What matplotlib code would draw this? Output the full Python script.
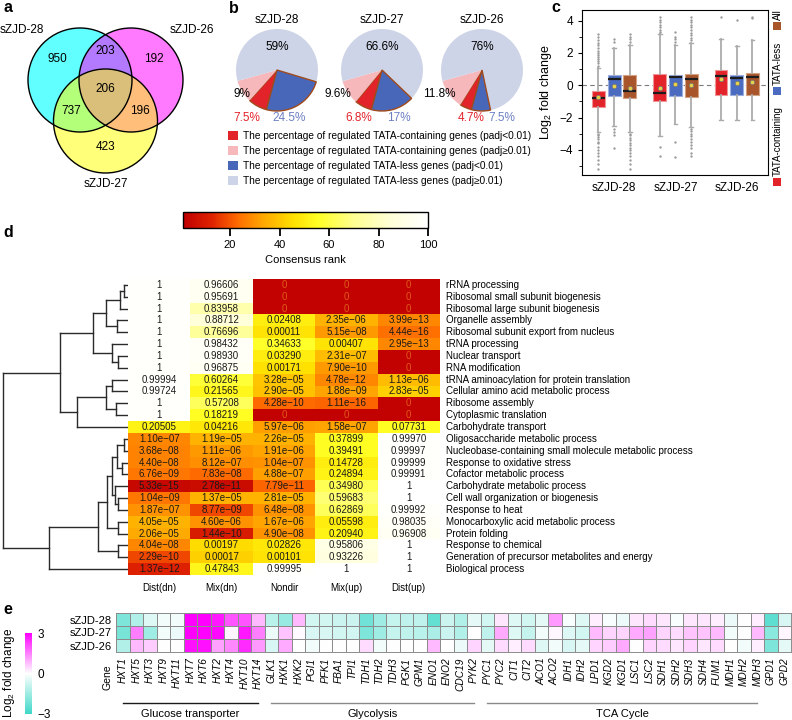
import numpy as np
import matplotlib.pyplot as plt
from matplotlib.colors import LinearSegmentedColormap
from matplotlib.patches import Circle, Rectangle, Patch
from matplotlib.transforms import blended_transform_factory

plt.rcParams['font.family'] = ['Liberation Sans', 'DejaVu Sans']
plt.rcParams['mathtext.fontset'] = 'custom'
plt.rcParams['mathtext.rm'] = 'Liberation Sans'

# ---------------- data ----------------
# a: Venn
venn_names = ['sZJD-28', 'sZJD-26', 'sZJD-27']
venn_counts = {'100': 950, '010': 192, '001': 423,
               '110': 203, '101': 737, '011': 196, '111': 206}

# b: pies (percent)
pie_names = ['sZJD-28', 'sZJD-27', 'sZJD-26']
tata_sig = [7.5, 6.8, 4.7]
tata_ns = [9, 9.6, 11.8]
less_sig = [24.5, 17, 7.5]
less_ns = [59, 66.6, 76]
pie_legend = ['The percentage of regulated TATA-containing genes (padj<0.01)',
              'The percentage of regulated TATA-containing genes (padj\u22650.01)',
              'The percentage of regulated TATA-less genes (padj<0.01)',
              'The percentage of regulated TATA-less genes (padj\u22650.01)']

# c: box plots, (whislo, q1, med, q3, whishi, mean) per sample
box_groups = ['sZJD-28', 'sZJD-27', 'sZJD-26']
box_kinds = ['TATA-containing', 'TATA-less', 'All']
tata_box = [(-2.87, -1.36, -0.76, -0.33, 1.05, -0.70),
            (-3.13, -0.97, -0.50, 0.70, 3.20, -0.18),
            (-2.14, -0.60, 0.58, 0.95, 2.85, 0.39)]
less_box = [(-2.50, -0.66, 0.41, 0.64, 2.30, -0.04),
            (-2.40, -0.66, 0.50, 0.66, 2.50, 0.08),
            (-2.14, -0.60, 0.47, 0.66, 2.45, 0.12)]
all_box = [(-2.87, -0.80, -0.37, 0.64, 2.50, -0.18),
           (-2.56, -0.70, 0.41, 0.70, 2.64, 0.00),
           (-2.14, -0.60, 0.54, 0.78, 2.80, 0.20)]
tata_out = [[1.2, 1.35, 1.5, 1.6, 1.75, 1.9, 2.0, 2.1, 2.3, 2.5, 2.6, 2.8, 3.0, 3.15,
             -3.0, -3.1, -3.2, -3.35, -3.5, -3.6, -3.8, -4.0, -4.2, -4.4, -4.6, -4.9, -5.2],
            [3.3, 3.45, 3.6, 3.75, 3.9, 4.05, 4.25, -3.8, -4.35],
            [4.25]]
less_out = [[2.7, 2.85, -2.7, -2.9, -3.1, -3.9],
            [2.7, 2.85, 3.0, 3.3, -3.5, -4.45],
            [4.05]]
all_out = [[2.7, 2.85, 3.0, 3.15, -3.0, -3.1, -3.25, -3.4, -3.55, -3.7, -3.85,
            -4.0, -4.2, -4.4, -4.6, -4.9, -5.2],
           [2.8, 2.95, 3.1, 3.25, 3.4, 3.6, 3.75, 3.9, 4.05, 4.25,
            -2.7, -2.85, -3.0, -3.15, -3.3, -3.5, -3.7, -3.9, -4.2, -4.4],
           [4.15, 4.25]]

# d: GO terms, adjusted p values and consensus rank
go_terms = ['rRNA processing', 'Ribosomal small subunit biogenesis',
            'Ribosomal large subunit biogenesis', 'Organelle assembly',
            'Ribosomal subunit export from nucleus', 'tRNA processing',
            'Nuclear transport', 'RNA modification',
            'tRNA aminoacylation for protein translation',
            'Cellular amino acid metabolic process', 'Ribosome assembly',
            'Cytoplasmic translation', 'Carbohydrate transport',
            'Oligosaccharide metabolic process',
            'Nucleobase-containing small molecule metabolic process',
            'Response to oxidative stress', 'Cofactor metabolic process',
            'Carbohydrate metabolic process', 'Cell wall organization or biogenesis',
            'Response to heat', 'Monocarboxylic acid metabolic process',
            'Protein folding', 'Response to chemical',
            'Generation of precursor metabolites and energy', 'Biological process']
go_cols = ['Dist(dn)', 'Mix(dn)', 'Nondir', 'Mix(up)', 'Dist(up)']
go_padj = [
    ['1', '0.96606', '0', '0', '0'],
    ['1', '0.95691', '0', '0', '0'],
    ['1', '0.83958', '0', '0', '0'],
    ['1', '0.88712', '0.02408', '2.35e-06', '3.99e-13'],
    ['1', '0.76696', '0.00011', '5.15e-08', '4.44e-16'],
    ['1', '0.98432', '0.34633', '0.00407', '2.95e-13'],
    ['1', '0.98930', '0.03290', '2.31e-07', '0'],
    ['1', '0.96875', '0.00171', '7.90e-10', '0'],
    ['0.99994', '0.60264', '3.28e-05', '4.78e-12', '1.13e-06'],
    ['0.99724', '0.21565', '2.90e-05', '1.88e-09', '2.83e-05'],
    ['1', '0.57208', '4.28e-10', '1.11e-16', '0'],
    ['1', '0.18219', '0', '0', '0'],
    ['0.20505', '0.04216', '5.97e-06', '1.58e-07', '0.07731'],
    ['1.10e-07', '1.19e-05', '2.26e-05', '0.37899', '0.99970'],
    ['3.68e-08', '1.11e-06', '1.91e-06', '0.39491', '0.99997'],
    ['4.40e-08', '8.12e-07', '1.04e-07', '0.14728', '0.99999'],
    ['6.76e-09', '7.83e-08', '4.88e-07', '0.24894', '0.99991'],
    ['5.33e-15', '2.78e-11', '7.79e-11', '0.34980', '1'],
    ['1.04e-09', '1.37e-05', '2.81e-05', '0.59683', '1'],
    ['1.87e-07', '8.77e-09', '6.48e-08', '0.62869', '0.99992'],
    ['4.05e-05', '4.60e-06', '1.67e-06', '0.05598', '0.98035'],
    ['2.06e-05', '1.44e-10', '4.90e-08', '0.20940', '0.96908'],
    ['4.04e-08', '0.00197', '0.02826', '0.95806', '1'],
    ['2.29e-10', '0.00017', '0.00101', '0.93226', '1'],
    ['1.37e-12', '0.47843', '0.99995', '1', '1'],
]
go_rank = [
    [99, 95, 2, 2, 2], [99, 95, 2, 2, 2], [99, 76, 2, 2, 2],
    [99, 86, 50, 36, 28], [99, 72, 47, 31, 24], [99, 97, 56, 47, 28],
    [99, 97, 50, 38, 2], [99, 96, 46, 31, 2], [99, 58, 40, 28, 38],
    [99, 53, 39, 33, 42], [99, 63, 23, 22, 2], [99, 55, 2, 2, 2],
    [52, 48, 32, 33, 55], [28, 36, 36, 55, 99], [27, 31, 33, 55, 99],
    [27, 29, 30, 50, 99], [25, 23, 32, 52, 99], [4, 5, 22, 62, 100],
    [25, 36, 36, 66, 100], [30, 18, 30, 63, 99], [36, 30, 33, 50, 97],
    [34, 10, 30, 52, 96], [28, 45, 48, 90, 100], [18, 42, 47, 88, 100],
    [12, 53, 99, 100, 100],
]
# clustering of GO terms: (child, child, height); new clusters numbered from 25
go_merges = [(0, 1, 0.03), (25, 2, 0.065), (3, 4, 0.09), (26, 27, 0.175),
             (6, 7, 0.08), (5, 29, 0.125), (28, 30, 0.28), (8, 9, 0.13),
             (10, 11, 0.10), (32, 33, 0.175), (34, 12, 0.405), (31, 35, 0.545),
             (13, 14, 0.035), (15, 16, 0.05), (37, 38, 0.085), (18, 19, 0.077),
             (17, 40, 0.105), (39, 41, 0.13), (20, 21, 0.077), (42, 43, 0.17),
             (22, 23, 0.077), (44, 45, 0.24), (46, 24, 0.63), (36, 47, 1.0)]

# e: log2 fold change of central carbon genes
genes = ['HXT1', 'HXT5', 'HXT3', 'HXT9', 'HXT11', 'HXT7', 'HXT6', 'HXT2', 'HXT4',
         'HXT10', 'HXT14', 'GLK1', 'HXK1', 'HXK2', 'PGI1', 'PFK1', 'FBA1', 'TPI1',
         'TDH1', 'TDH2', 'TDH3', 'PGK1', 'GPM1', 'ENO1', 'ENO2', 'CDC19', 'PYK2',
         'PYC1', 'PYC2', 'CIT1', 'CIT2', 'ACO1', 'ACO2', 'IDH1', 'IDH2', 'LPD1',
         'KGD2', 'KGD1', 'LSC1', 'LSC2', 'SDH1', 'SDH2', 'SDH3', 'SDH4', 'FUM1',
         'MDH1', 'MDH2', 'MDH3', 'GPD1', 'GPD2']
fc_rows = ['sZJD-28', 'sZJD-27', 'sZJD-26']
fc_28 = [-2.0, -1.2, -0.5, -0.2, -0.2, 3.0, 3.0, 2.7, 2.0, 2.0, 0.8,
         -1.1, -1.6, 0.8, -0.7, -0.7, -0.8, -0.8, -2.2, -1.5, -0.9, -1.0, -1.0, -2.4, -0.8, -1.2, -0.4,
         -0.7, 0.3, -0.5, -0.7, -0.4, 1.2, -0.1, -0.5, 0.2, -0.1, -0.3, 0.3, 0.4, 0.3, -0.1,
         0.3, 0.3, 0.2, -0.3, 0.0, 0.2,
         -2.5, -0.6]
fc_27 = [-2.1, 1.5, -1.5, -0.2, -0.3, 3.0, 3.0, 2.9, 0.1, 2.7, 1.5,
         -0.3, 0.7, 0.05, -0.6, -0.6, -0.7, -0.7, -2.0, -1.5, -0.9, -1.0, -1.1, -1.3, -0.8, -1.2, 0.0,
         -1.0, 1.0, -0.5, -0.9, -0.2, 0.1, -0.5, -0.7, 0.8, 0.5, 0.5, 1.0, 1.1, 0.5, 0.4,
         0.7, 0.7, 0.8, -0.2, 0.0, 0.8,
         -1.8, 0.1]
fc_26 = [-1.2, 0.8, 0.6, 0.0, 0.0, 2.8, 2.8, 1.1, 1.4, 2.5, 1.2,
         -0.6, 1.0, 0.0, -0.2, 0.0, 0.0, 0.0, 0.4, -0.2, 0.0, 0.0, 0.0, 0.8, 0.0, -0.3, 0.5,
         -0.4, 0.4, 0.2, 0.4, -0.5, -0.2, -0.6, -0.4, 0.5, 0.6, 1.0, 0.0, 0.5, 0.4, 0.3,
         0.5, 0.3, 0.4, 0.0, -0.2, 0.2,
         -2.0, -0.4]
gene_groups = [('Glucose transporter', 'HXT1', 'HXT14'),
               ('Glycolysis', 'GLK1', 'PYK2'),
               ('TCA Cycle', 'PYC1', 'MDH3')]

# ---------------- layout helpers (pixels) ----------------
W, H = 792, 720
fig = plt.figure(figsize=(W / 100, H / 100), dpi=100)


def pbox(x0, y0, x1, y1):
    return [x0 / W, 1 - y1 / H, (x1 - x0) / W, (y1 - y0) / H]


def fx(x):
    return x / W


def fy(y):
    return 1 - y / H


for lab, (x, y) in zip('abcde', [(3, 0), (229, 1), (551, 0), (3, 225), (3, 602)]):
    fig.text(fx(x), fy(y), lab, fontsize=11.5, fontweight='bold', va='top', ha='left')

# ---------------- a: Venn ----------------
ax = fig.add_axes(pbox(0, 0, 230, 200))
ax.set_xlim(0, 230)
ax.set_ylim(200, 0)
ax.axis('off')
centers = [(80, 80), (131, 80), (105.5, 121)]
rad = 52
for (cx, cy), col, al in zip(centers, ['#00ffff', '#ff00ff', '#ffff00'], [0.62, 0.52, 0.52]):
    ax.add_patch(Circle((cx, cy), rad, facecolor=col, alpha=al, edgecolor='none'))
for cx, cy in centers:
    ax.add_patch(Circle((cx, cy), rad, facecolor='none', edgecolor='black', lw=1))
gx, gy = np.meshgrid(np.arange(0, 230, 0.5), np.arange(0, 200, 0.5))
dists = [np.hypot(gx - cx, gy - cy) for cx, cy in centers]
for code, n in venn_counts.items():
    depth = np.full(gx.shape, np.inf)
    for d, bit in zip(dists, code):
        depth = np.minimum(depth, rad - d if bit == '1' else d - rad)
    k = np.argmax(depth)
    ax.text(gx.flat[k], gy.flat[k] - 3, str(n), ha='center', va='center', fontsize=8.5)
for (cx, cy), name, (dx, dy) in zip(centers, venn_names, [(-58, -50), (61, -50), (0, 63)]):
    ax.text(cx + dx, cy + dy, name, ha='center', va='center', fontsize=8.5)

# ---------------- b: pies ----------------
pie_colors = ['#e3232a', '#f6b8ba', '#cdd4e7', '#4967b8']
pie_cx, pie_cy, pie_r = [277, 382, 482], 70, 41
pink_dx = [-0.85, -1.07, -1.05]
red_dx = [-0.73, -0.56, -0.27]
blue_dx = [0.29, 0.41, 0.49]
for i, name in enumerate(pie_names):
    s = 1.25 * pie_r
    axp = fig.add_axes(pbox(pie_cx[i] - s, pie_cy - s, pie_cx[i] + s, pie_cy + s))
    vals = [tata_sig[i], tata_ns[i], less_ns[i], less_sig[i]]
    wedges, _ = axp.pie(vals, colors=pie_colors, startangle=-105, counterclock=False)
    for w in (wedges[0], wedges[3]):
        w.set_edgecolor('#a04a1c')
        w.set_linewidth(1.0)
    axp.set_xlim(-1.25, 1.25)
    axp.set_ylim(-1.25, 1.25)
    axp.text(0, 1.22, name, ha='center', va='center', fontsize=8.5)
    axp.text(0, 0.56, f'{less_ns[i]:g}%', ha='center', va='center', fontsize=8.5)
    axp.text(pink_dx[i], -0.59, f'{tata_ns[i]:g}%', ha='center', va='center', fontsize=8.5)
    axp.text(red_dx[i], -1.17, f'{tata_sig[i]:g}%', ha='center', va='center',
             fontsize=8.5, color='#e3232a')
    axp.text(blue_dx[i], -1.17, f'{less_sig[i]:g}%', ha='center', va='center',
             fontsize=8.5, color='#6b7fc2')
axl = fig.add_axes(pbox(228, 131, 530, 198))
axl.axis('off')
axl.legend([Patch(facecolor=c, edgecolor='none') for c in pie_colors[:2] + pie_colors[3:] + pie_colors[2:3]],
           pie_legend, loc='upper left', bbox_to_anchor=(0, 1),
           frameon=False, fontsize=7.3, borderpad=0, borderaxespad=0, handlelength=0.95,
           handleheight=0.95, handletextpad=0.5, labelspacing=0.5)

# ---------------- c: box plots ----------------
axc = fig.add_axes(pbox(582, 10, 768, 175))
axc.axhline(0, color='#7a7a7a', ls=(0, (4, 3)), lw=0.8, zorder=0)
kind_colors = ['#e3232a', '#4a6bbf', '#a8552b']
kind_edges = ['#f19497', '#9aaee0', '#d2a283']
offs = [-0.257, 0, 0.257]
for k, (bstats, bouts) in enumerate(zip([tata_box, less_box, all_box], [tata_out, less_out, all_out])):
    stats = [dict(whislo=lo, q1=q1, med=med, q3=q3, whishi=hi, mean=mn, fliers=np.array(o))
             for (lo, q1, med, q3, hi, mn), o in zip(bstats, bouts)]
    axc.bxp(stats, positions=[g + offs[k] for g in (1, 2, 3)], widths=0.21,
            patch_artist=True, showmeans=True, capwidths=0.06, manage_ticks=False,
            boxprops=dict(facecolor=kind_colors[k], edgecolor=kind_edges[k], lw=0.8),
            medianprops=dict(color='#1c1c1c', lw=1.6),
            whiskerprops=dict(color='#ababab', lw=1.3),
            capprops=dict(color='#ababab', lw=1.0),
            flierprops=dict(marker='o', ms=1.7, mfc='#9a9a9a', mec='none'),
            meanprops=dict(marker='o', ms=3.2, mfc='#e8d24a', mec='#777777', mew=0.5))
axc.set_xlim(0.475, 3.51)
axc.set_ylim(-5.55, 4.66)
axc.set_xticks([1, 2, 3], box_groups, fontsize=8.5)
axc.set_yticks([-4, -2, 0, 2, 4])
axc.set_yticks([-5, -3, -1, 1, 3], minor=True)
axc.tick_params(axis='y', labelsize=8.5, length=3)
axc.tick_params(axis='y', which='minor', length=2)
axc.tick_params(axis='x', length=0, pad=5)
axc.set_ylabel('Log$_2$ fold change', fontsize=9, labelpad=4)
for ylab, name, col in zip([182, 91, 26], box_kinds, kind_colors):
    fig.add_artist(Rectangle((fx(773), fy(ylab + 4)), 8 / W, 8 / H, transform=fig.transFigure,
                             facecolor=col, edgecolor='none'))
    fig.text(fx(777.5), fy(ylab - 6), name, rotation=90, ha='center', va='bottom', fontsize=7)

# ---------------- d: GO heatmap with dendrogram ----------------
heat = LinearSegmentedColormap.from_list('heat', [
    (0.0, '#bf0000'), (0.12, '#e02400'), (0.22, '#ff6a00'), (0.32, '#ffa400'),
    (0.45, '#ffe000'), (0.55, '#ffff24'), (0.70, '#ffff92'), (0.85, '#ffffd8'), (1.0, '#ffffff')])
axh = fig.add_axes(pbox(128, 279, 440, 575))
im = axh.imshow(np.array(go_rank), cmap=heat, vmin=1, vmax=100, aspect='auto',
                extent=(0, 5, 25, 0), interpolation='nearest')
axh.axis('off')
for i, term in enumerate(go_terms):
    for j in range(5):
        txt = go_padj[i][j]
        axh.text(j + 0.5, i + 0.5, txt.replace('-', '\u2212'), ha='center', va='center',
                 fontsize=7, color='#e2581a' if txt == '0' else '#1a1a1a')
    axh.text(5.09, i + 0.5, term, ha='left', va='center', fontsize=7)
for j, c in enumerate(go_cols):
    axh.text(j + 0.5, 26.1, c, ha='center', va='center', fontsize=7)

axd = fig.add_axes(pbox(0, 279, 128, 575))
axd.set_xlim(1.025, 0)
axd.set_ylim(25, 0)
axd.axis('off')
n_leaf = len(go_terms)
pos = {i: i + 0.5 for i in range(n_leaf)}
hgt = {i: 0.0 for i in range(n_leaf)}
for k, (a, b, h) in enumerate(go_merges):
    for child in (a, b):
        axd.plot([hgt[child], h], [pos[child], pos[child]], color='#2a2a2a', lw=1)
    axd.plot([h, h], [pos[a], pos[b]], color='#2a2a2a', lw=1)
    pos[n_leaf + k] = (pos[a] + pos[b]) / 2
    hgt[n_leaf + k] = h

cax = fig.add_axes(pbox(183, 212, 428, 228))
cb = fig.colorbar(im, cax=cax, orientation='horizontal', ticks=[20, 40, 60, 80, 100])
cax.tick_params(length=6, width=1.3, labelsize=8, pad=3)
cb.outline.set_linewidth(1.0)
cb.set_label('Consensus rank', fontsize=8, labelpad=3)

# ---------------- e: fold change heatmap ----------------
teal = LinearSegmentedColormap.from_list('tm', ['#3ed8c8', '#ffffff', '#ff00ff'])
axe = fig.add_axes(pbox(116, 613, 791, 652))
me = axe.pcolormesh(np.array([fc_28, fc_27, fc_26]), cmap=teal, vmin=-3, vmax=3,
                    edgecolors='#8c8c8c', linewidth=0.7)
axe.set_xlim(0, len(genes))
axe.set_ylim(3, 0)
axe.set_xticks(np.arange(len(genes)) + 0.5, genes, rotation=90, fontsize=7.3, style='italic')
axe.set_yticks(np.arange(3) + 0.5, fc_rows, fontsize=8)
axe.tick_params(length=0, pad=3)
axe.tick_params(axis='x', pad=4)
for sp in axe.spines.values():
    sp.set_color('#8c8c8c')
    sp.set_linewidth(0.7)
fig.text(fx(107), fy(677), 'Gene', rotation=90, ha='center', va='center', fontsize=7.5)
trans = blended_transform_factory(axe.transData, fig.transFigure)
for (name, g0, g1), lc in zip(gene_groups, ['#1a1a1a', '#8a8a8a', '#8a8a8a']):
    i0, i1 = genes.index(g0) + 0.5, genes.index(g1) + 0.5
    axe.plot([i0, i1], [fy(703)] * 2, transform=trans, color=lc, lw=1, clip_on=False)
    axe.text((i0 + i1) / 2, fy(714), name, transform=trans, ha='center', va='center', fontsize=8)

cax2 = fig.add_axes(pbox(25, 633, 32, 714))
cb2 = fig.colorbar(me, cax=cax2, ticks=[-3, 0, 3])
cb2.outline.set_visible(False)
cax2.tick_params(length=0, labelsize=8.5, pad=4)
fig.text(fx(9), fy(673), 'Log$_2$ fold change', rotation=90, ha='center', va='center', fontsize=8.5)

fig.savefig('out.png', dpi=100, facecolor='white')
